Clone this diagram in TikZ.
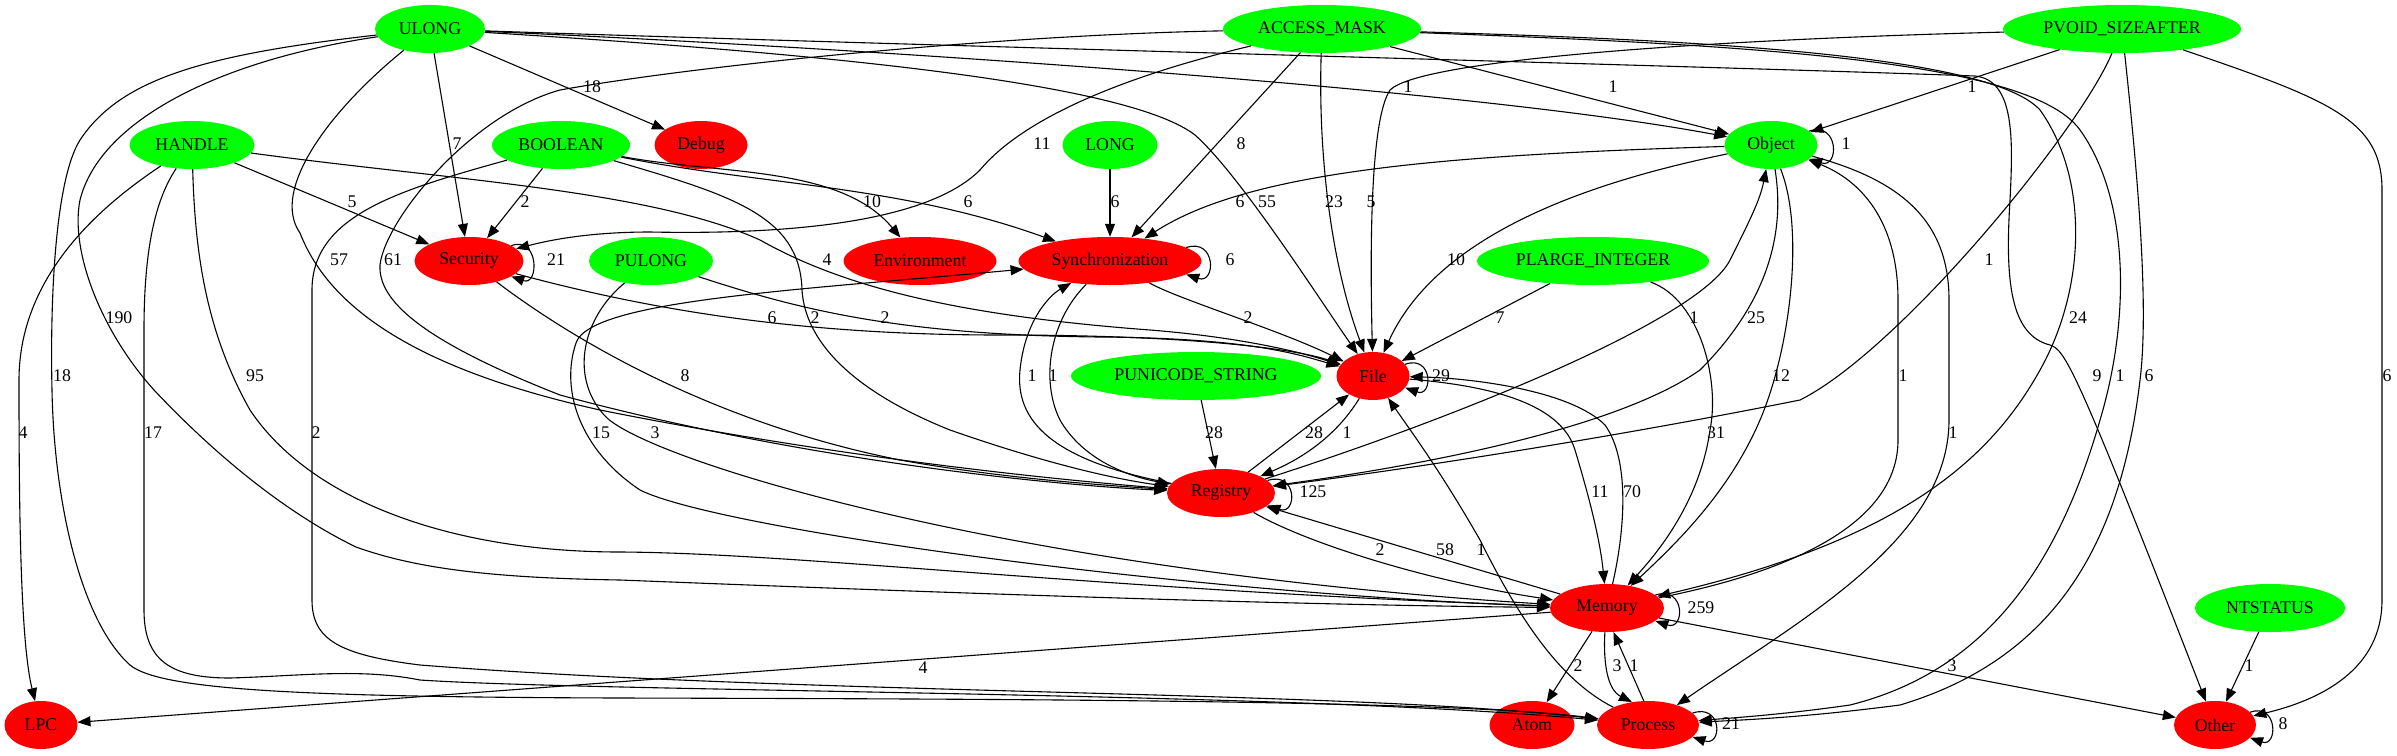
\documentclass[tikz,border=0pt]{standalone}
\usepackage{fontspec}
\setmainfont{Liberation Serif}
\usetikzlibrary{shapes.geometric,arrows.meta}
\definecolor{gcol}{HTML}{00FF00}
\definecolor{rcol}{HTML}{FF0000}
\newcommand{\dgf}{\fontsize{17.8}{20}\selectfont}
\begin{document}
\begin{tikzpicture}[x=1pt,y=-1pt,
  gn/.style={ellipse,fill=gcol,inner sep=0pt,minimum height=48pt,font=\dgf},
  rn/.style={ellipse,fill=rcol,inner sep=0pt,minimum height=48pt,font=\dgf},
  e/.style={line width=1.1pt,-{Triangle[length=13pt,width=10pt]}},
  lbl/.style={inner sep=0pt,font=\dgf}]
\useasboundingbox[fill=white] (0,0) rectangle (2397,755);
% nodes
\node[gn,minimum width=110pt] (ULONG) at (430,29) {ULONG};
\node[gn,minimum width=198pt] (AM) at (1322,29) {ACCESS\_MASK};
\node[gn,minimum width=238pt] (PV) at (2122,29) {PVOID\_SIZEAFTER};
\node[gn,minimum width=125pt] (HANDLE) at (192,145) {HANDLE};
\node[gn,minimum width=138pt] (BOOL) at (561,145) {BOOLEAN};
\node[rn,minimum width=93pt] (Debug) at (701,145) {Debug};
\node[gn,minimum width=95pt] (LONG) at (1110,145) {LONG};
\node[gn,minimum width=93pt] (Object) at (1771,145) {Object};
\node[rn,minimum width=109pt] (Sec) at (469,261) {Security};
\node[gn,minimum width=124pt] (PUL) at (651,261) {PULONG};
\node[rn,minimum width=153pt] (Env) at (920,261) {Environment};
\node[rn,minimum width=183pt] (Sync) at (1110,261) {Synchronization};
\node[gn,minimum width=232pt] (PLI) at (1593,261) {PLARGE\_INTEGER};
\node[gn,minimum width=250pt] (PUS) at (1196,376) {PUNICODE\_STRING};
\node[rn,minimum width=73pt] (File) at (1373,376) {File};
\node[rn,minimum width=108pt] (Reg) at (1221,493) {Registry};
\node[rn,minimum width=114pt] (Mem) at (1607,608) {Memory};
\node[gn,minimum width=150pt] (NTS) at (2270,608) {NTSTATUS};
\node[rn,minimum width=73pt] (LPC) at (41,725) {LPC};
\node[rn,minimum width=85pt] (Atom) at (1532,725) {Atom};
\node[rn,minimum width=102pt] (Proc) at (1648,725) {Process};
\node[rn,minimum width=82pt] (Other) at (2215,725) {Other};
% ULONG
\draw[e] (ULONG) -- (Debug);
\draw[e] (ULONG) -- (Sec);
\draw[e] (ULONG) .. controls (800,45) and (1450,85) .. (Object);
\draw[e] (ULONG) .. controls (850,55) and (1130,85) .. (1195,135) .. controls (1240,175) and (1320,300) .. (File);
\draw[e] (ULONG) .. controls (900,45) and (1700,66) .. (1975,76) .. controls (2015,80) and (2013,140) .. (2010,200) .. controls (2005,280) and (2010,335) .. (2050,345) .. controls (2065,350) and (2075,365) .. (Other);
\draw[e] (ULONG) .. controls (330,110) and (270,190) .. (300,233) .. controls (330,310) and (420,370) .. (600,410) .. controls (800,450) and (1000,475) .. (Reg);
\draw[e] (ULONG) .. controls (220,60) and (100,120) .. (80,200) .. controls (70,250) and (100,330) .. (154,390) .. controls (220,460) and (290,515) .. (356,547) .. controls (420,570) and (500,578) .. (620,580) .. controls (1000,595) and (1300,605) .. (Mem);
\draw[e] (ULONG) .. controls (200,55) and (120,80) .. (80,140) .. controls (55,180) and (50,300) .. (52,390) .. controls (54,500) and (80,620) .. (130,665) .. controls (160,690) and (300,697) .. (620,698) .. controls (1000,699) and (1450,700) .. (Proc);
% HANDLE
\draw[e] (HANDLE) -- (Sec);
\draw[e] (HANDLE) .. controls (450,180) and (650,190) .. (760,240) .. controls (840,285) and (950,315) .. (1150,330) .. controls (1250,338) and (1310,355) .. (File);
\draw[e] (HANDLE) .. controls (110,200) and (19,270) .. (19,380) .. controls (19,500) and (20,640) .. (LPC);
\draw[e] (HANDLE) .. controls (155,200) and (144,250) .. (144,330) -- (144,610) .. controls (144,660) and (170,678) .. (230,678) .. controls (300,676) and (360,668) .. (420,680) .. controls (600,692) and (1300,692) .. (Proc);
\draw[e] (HANDLE) .. controls (195,250) and (205,330) .. (250,410) .. controls (310,500) and (450,552) .. (620,552) .. controls (800,553) and (1100,590) .. (Mem);
% BOOLEAN
\draw[e] (BOOL) -- (Sec);
\draw[e] (BOOL) .. controls (720,175) and (840,165) .. (Env);
\draw[e] (BOOL) .. controls (760,185) and (900,185) .. (Sync);
\draw[e] (BOOL) .. controls (730,195) and (800,215) .. (802,290) .. controls (805,340) and (850,390) .. (950,430) .. controls (1050,465) and (1120,480) .. (Reg);
\draw[e] (BOOL) .. controls (400,190) and (312,215) .. (312,290) -- (312,600) .. controls (312,640) and (340,655) .. (420,665) .. controls (800,695) and (1350,690) .. (Proc);
% LONG
\draw[e] (LONG) -- (Sync);
% ACCESS_MASK
\draw[e] (AM) .. controls (1150,70) and (1030,110) .. (980,170) .. controls (930,220) and (800,235) .. (650,232) .. controls (590,232) and (550,240) .. (Sec);
\draw[e] (AM) .. controls (1000,35) and (700,65) .. (560,90) .. controls (470,115) and (385,220) .. (380,265) .. controls (378,300) and (420,340) .. (560,395) .. controls (800,460) and (1050,485) .. (Reg);
\draw[e] (AM) -- (Sync);
\draw[e] (AM) .. controls (1318,150) and (1330,260) .. (File);
\draw[e] (AM) -- (Object);
\draw[e] (AM) .. controls (1700,40) and (1990,55) .. (2040,110) .. controls (2090,180) and (2085,290) .. (2040,370) .. controls (1990,460) and (1900,540) .. (Mem);
\draw[e] (AM) .. controls (1750,45) and (2030,60) .. (2080,130) .. controls (2130,200) and (2130,320) .. (2100,420) .. controls (2060,560) and (1990,670) .. (1850,705) .. controls (1780,715) and (1730,718) .. (Proc);
% PVOID_SIZEAFTER
\draw[e] (PV) -- (Object);
\draw[e] (PV) .. controls (1700,40) and (1420,60) .. (1390,90) .. controls (1370,120) and (1370,250) .. (File);
\draw[e] (PV) .. controls (2080,130) and (1900,350) .. (1800,400) .. controls (1600,440) and (1400,470) .. (Reg);
\draw[e] (PV) .. controls (2135,150) and (2150,300) .. (2140,380) .. controls (2120,550) and (2050,660) .. (1900,705) .. controls (1800,718) and (1740,720) .. (Proc);
\draw[e] (PV) .. controls (2330,100) and (2382,120) .. (2382,190) -- (2382,600) .. controls (2382,670) and (2320,700) .. (Other);
% Object
\draw[e] (Object.20) .. controls +(30,-10) and +(30,10) .. (Object.-20);
\draw[e] (Object) .. controls (1450,155) and (1250,170) .. (Sync);
\draw[e] (Object) .. controls (1550,190) and (1430,250) .. (File);
\draw[e] (Object) .. controls (1785,230) and (1770,300) .. (1700,370) .. controls (1600,440) and (1350,475) .. (Reg);
\draw[e] (Object) .. controls (1805,230) and (1790,350) .. (1760,420) .. controls (1730,490) and (1680,540) .. (Mem);
\draw[e] (Object) .. controls (1900,180) and (1949,220) .. (1949,300) -- (1949,420) .. controls (1949,540) and (1800,620) .. (Proc);
\draw[e] (Mem) .. controls (1800,570) and (1898,520) .. (1898,440) -- (1898,300) .. controls (1898,220) and (1860,180) .. (Object);
\draw[e] (Reg) .. controls (1450,420) and (1700,320) .. (1730,260) .. controls (1750,220) and (1760,200) .. (Object);
% PLARGE_INTEGER
\draw[e] (PLI) -- (File);
\draw[e] (PLI) .. controls (1700,300) and (1720,380) .. (1710,430) .. controls (1700,500) and (1660,550) .. (Mem);
% Security
\draw[e] (Sec.20) .. controls +(28,-10) and +(28,10) .. (Sec.-20);
\draw[e] (Sec) .. controls (650,310) and (800,335) .. (1000,335) .. controls (1200,335) and (1300,350) .. (File);
\draw[e] (Sec) .. controls (560,330) and (700,420) .. (900,460) .. controls (1000,478) and (1100,485) .. (Reg);
% PULONG
\draw[e] (PUL) .. controls (800,310) and (900,335) .. (1100,337) .. controls (1250,338) and (1300,355) .. (File);
\draw[e] (PUL) .. controls (580,320) and (570,380) .. (606,417) .. controls (650,460) and (1000,570) .. (Mem);
\draw[e] (Mem) .. controls (1200,595) and (720,530) .. (640,490) .. controls (580,450) and (560,390) .. (576,343) .. controls (590,300) and (800,290) .. (Sync);
% Synchronization
\draw[e] (Sync.10) .. controls +(30,-10) and +(30,10) .. (Sync.-10);
\draw[e] (Sync) .. controls (1180,300) and (1280,330) .. (File);
\draw[e] (Reg) .. controls (1050,460) and (1015,420) .. (1020,370) .. controls (1025,320) and (1050,295) .. (Sync);
\draw[e] (Sync) .. controls (1050,320) and (1040,380) .. (1060,420) .. controls (1080,455) and (1120,475) .. (Reg);
% PUNICODE_STRING
\draw[e] (PUS) -- (Reg);
% File
\draw[e] (File.20) .. controls +(28,-10) and +(28,10) .. (File.-20);
\draw[e] (File) .. controls (1340,430) and (1310,455) .. (Reg);
\draw[e] (Reg) -- (File);
\draw[e] (File) .. controls (1480,385) and (1560,400) .. (1575,450) .. controls (1590,500) and (1600,540) .. (Mem);
\draw[e] (Mem) .. controls (1625,530) and (1630,460) .. (1605,425) .. controls (1570,390) and (1470,378) .. (File);
\draw[e] (Proc) .. controls (1560,680) and (1520,620) .. (1480,540) .. controls (1440,470) and (1410,430) .. (File);
% Registry
\draw[e] (Reg.15) .. controls +(30,-10) and +(30,10) .. (Reg.-15);
\draw[e] (Reg) .. controls (1300,540) and (1420,580) .. (Mem);
\draw[e] (Mem) -- (Reg);
% Memory
\draw[e] (Mem.15) .. controls +(30,-10) and +(30,10) .. (Mem.-15);
\draw[e] (Mem) -- (LPC);
\draw[e] (Mem) -- (Atom);
\draw[e] (Mem.-95) .. controls (1603,665) and (1608,690) .. (Proc.125);
\draw[e] (Proc.100) -- (Mem.-75);
\draw[e] (Mem) -- (Other);
% NTSTATUS, loops
\draw[e] (NTS) -- (Other);
\draw[e] (Other.20) .. controls +(28,-10) and +(28,10) .. (Other.-20);
\draw[e] (Proc.15) .. controls +(30,-10) and +(30,10) .. (Proc.-15);
% labels
\node[lbl] (l1) at (592,87) {18};
\node[lbl] (l2) at (457,144) {7};
\node[lbl] (l3) at (352,202) {5};
\node[lbl] (l4) at (525,202) {2};
\node[lbl] (l5) at (339,260) {57};
\node[lbl] (l6) at (393,260) {61};
\node[lbl] (l7) at (556,260) {21};
\node[lbl] (l8) at (119,318) {190};
\node[lbl] (l9) at (62,376) {18};
\node[lbl] (l10) at (255,376) {95};
\node[lbl] (l11) at (23,433) {4};
\node[lbl] (l12) at (153,433) {17};
\node[lbl] (l13) at (316,433) {2};
\node[lbl] (l14) at (601,433) {15};
\node[lbl] (l15) at (655,433) {3};
\node[lbl] (l16) at (872,202) {10};
\node[lbl] (l17) at (968,202) {6};
\node[lbl] (l18) at (1115,202) {6};
\node[lbl] (l19) at (1042,144) {11};
\node[lbl] (l20) at (827,260) {4};
\node[lbl] (l21) at (772,318) {6};
\node[lbl] (l22) at (815,318) {2};
\node[lbl] (l23) at (885,318) {2};
\node[lbl] (l24) at (685,376) {8};
\node[lbl] (l25) at (1032,376) {1};
\node[lbl] (l26) at (1053,376) {1};
\node[lbl] (l27) at (1214,433) {28};
\node[lbl] (l28) at (923,668) {4};
\node[lbl] (l29) at (1241,144) {8};
\node[lbl] (l30) at (1240,202) {6};
\node[lbl] (l31) at (1267,202) {55};
\node[lbl] (l32) at (1334,202) {23};
\node[lbl] (l33) at (1371,202) {5};
\node[lbl] (l34) at (1408,87) {1};
\node[lbl] (l35) at (1613,87) {1};
\node[lbl] (l36) at (1456,260) {10};
\node[lbl] (l37) at (1230,260) {6};
\node[lbl] (l38) at (1248,318) {2};
\node[lbl] (l39) at (1500,318) {7};
\node[lbl] (l40) at (1694,318) {1};
\node[lbl] (l41) at (1756,318) {25};
\node[lbl] (l42) at (1781,376) {12};
\node[lbl] (l43) at (1441,376) {29};
\node[lbl] (l44) at (1972,87) {1};
\node[lbl] (l45) at (1846,144) {1};
\node[lbl] (l46) at (1989,260) {1};
\node[lbl] (l47) at (2078,318) {24};
\node[lbl] (l48) at (1903,376) {1};
\node[lbl] (l49) at (2097,376) {9};
\node[lbl] (l50) at (2120,376) {1};
\node[lbl] (l51) at (2149,376) {6};
\node[lbl] (l52) at (2387,376) {6};
\node[lbl] (l53) at (1953,433) {1};
\node[lbl] (l54) at (1952,666) {3};
\node[lbl] (l55) at (2249,666) {1};
\node[lbl] (l56) at (2283,724) {8};
\node[lbl] (l57) at (1313,492) {125};
\node[lbl] (l58) at (1314,433) {28};
\node[lbl] (l59) at (1347,433) {1};
\node[lbl] (l60) at (1600,492) {11};
\node[lbl] (l61) at (1632,492) {70};
\node[lbl] (l62) at (1716,433) {31};
\node[lbl] (l63) at (1380,550) {2};
\node[lbl] (l64) at (1445,550) {58};
\node[lbl] (l65) at (1481,550) {1};
\node[lbl] (l66) at (1701,608) {259};
\node[lbl] (l67) at (1578,666) {2};
\node[lbl] (l68) at (1617,666) {3};
\node[lbl] (l69) at (1634,666) {1};
\node[lbl] (l70) at (1731,724) {21};
\end{tikzpicture}
\end{document}
